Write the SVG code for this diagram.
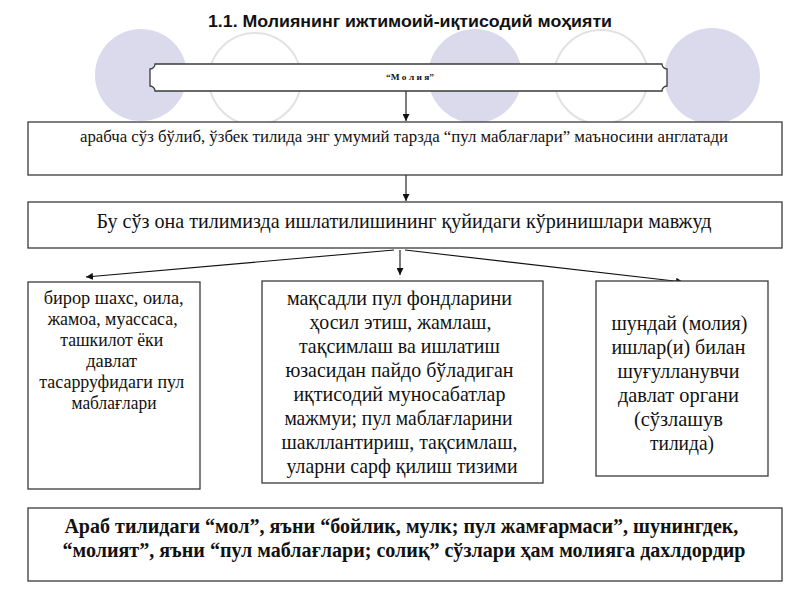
<svg xmlns="http://www.w3.org/2000/svg" width="800" height="600" viewBox="0 0 800 600">
<style>
.box{fill:#fff;stroke:#3a3a3a;stroke-width:1.3}
.t{font-family:"Liberation Serif","Times New Roman",serif;fill:#111;text-anchor:middle}
.b{font-weight:bold}
.con{stroke:#111;stroke-width:1.1;fill:none;marker-end:url(#ah)}
.fc{fill:#dadaec}
.oc{fill:none;stroke:#e2e2e2;stroke-width:2}
</style>
<defs>
<marker id="ah" viewBox="0 0 10 10" refX="10" refY="5" markerWidth="7" markerHeight="7" markerUnits="userSpaceOnUse" orient="auto">
<path d="M0,0 L10,5 L0,10 z" fill="#111"/>
</marker>
</defs>
<rect width="800" height="600" fill="#fff"/>
<g id="background">
<circle class="fc" cx="141" cy="75" r="46"/>
<circle class="oc" cx="255" cy="79" r="46"/>
<circle class="fc" cx="475" cy="76" r="47"/>
<circle class="oc" cx="601" cy="77" r="47"/>
<circle class="fc" cx="712" cy="76" r="48"/>
</g>
<text id="title" x="410" y="27" font-family="'Liberation Sans',Arial,sans-serif" font-weight="bold" font-size="16" text-anchor="middle" fill="#111" textLength="404" lengthAdjust="spacingAndGlyphs">1.1. Молиянинг ижтимоий-иқтисодий моҳияти</text>
<g id="connectors">
<line class="con" x1="406" y1="91" x2="406" y2="121"/>
<line class="con" x1="406" y1="175" x2="406" y2="201"/>
<line class="con" x1="394" y1="250" x2="86" y2="277"/>
<line class="con" x1="400" y1="250" x2="400" y2="275"/>
<line class="con" x1="405" y1="250" x2="683" y2="282"/>
</g>
<g id="n-molia">
<path class="box" d="M155,64 H662 A5,5 0 0 0 667,69 V86 A5,5 0 0 0 662,91 H155 A5,5 0 0 0 150,86 V69 A5,5 0 0 0 155,64 Z"/>
<text class="t b" x="410" y="80" font-size="8.5" textLength="48" lengthAdjust="spacingAndGlyphs">“М о л и я”</text>
</g>
<g id="n-arab">
<rect class="box" x="28" y="122" width="754" height="53"/>
<text class="t" x="404" y="142" font-size="17" textLength="648" lengthAdjust="spacingAndGlyphs">арабча сўз бўлиб, ўзбек тилида энг умумий тарзда  “пул маблағлари” маъносини англатади</text>
</g>
<g id="n-bu">
<rect class="box" x="28" y="202" width="754" height="46"/>
<text class="t" x="404" y="228" font-size="21" textLength="615" lengthAdjust="spacingAndGlyphs">Бу сўз она тилимизда ишлатилишининг қуйидаги кўринишлари мавжуд</text>
</g>
<g id="n-left">
<rect class="box" x="28" y="282" width="172" height="207"/>
<text class="t" font-size="18.5">
<tspan x="116" y="304" textLength="140" lengthAdjust="spacingAndGlyphs">бирор шахс, оила,</tspan>
<tspan x="115" y="325" textLength="130" lengthAdjust="spacingAndGlyphs">жамоа, муассаса,</tspan>
<tspan x="114" y="346" textLength="103" lengthAdjust="spacingAndGlyphs">ташкилот ёки</tspan>
<tspan x="114" y="367" textLength="51" lengthAdjust="spacingAndGlyphs">давлат</tspan>
<tspan x="114" y="388" textLength="145" lengthAdjust="spacingAndGlyphs">тасарруфидаги пул</tspan>
<tspan x="114" y="409" textLength="85" lengthAdjust="spacingAndGlyphs">маблағлари</tspan>
</text>
</g>
<g id="n-center">
<rect class="box" x="262" y="281" width="281" height="202"/>
<text class="t" font-size="21">
<tspan x="402" y="305" textLength="225" lengthAdjust="spacingAndGlyphs">мақсадли пул фондларини</tspan>
<tspan x="403" y="329" textLength="182" lengthAdjust="spacingAndGlyphs">ҳосил этиш, жамлаш,</tspan>
<tspan x="402" y="353" textLength="201" lengthAdjust="spacingAndGlyphs">тақсимлаш ва ишлатиш</tspan>
<tspan x="402" y="377" textLength="228" lengthAdjust="spacingAndGlyphs">юзасидан пайдо бўладиган</tspan>
<tspan x="402" y="401" textLength="212" lengthAdjust="spacingAndGlyphs">иқтисодий муносабатлар</tspan>
<tspan x="401" y="425" textLength="228" lengthAdjust="spacingAndGlyphs">мажмуи; пул маблағларини</tspan>
<tspan x="402" y="449" textLength="236" lengthAdjust="spacingAndGlyphs">шакллантириш, тақсимлаш,</tspan>
<tspan x="402" y="473" textLength="231" lengthAdjust="spacingAndGlyphs">уларни сарф қилиш тизими</tspan>
</text>
</g>
<g id="n-right">
<rect class="box" x="596" y="281" width="172" height="195"/>
<text class="t" font-size="21">
<tspan x="682" y="330" textLength="136" lengthAdjust="spacingAndGlyphs">шундай (молия)</tspan>
<tspan x="681" y="354" textLength="134" lengthAdjust="spacingAndGlyphs">ишлар(и) билан</tspan>
<tspan x="681" y="378" textLength="122" lengthAdjust="spacingAndGlyphs">шуғулланувчи</tspan>
<tspan x="681" y="402" textLength="121" lengthAdjust="spacingAndGlyphs">давлат органи</tspan>
<tspan x="681" y="426" textLength="89" lengthAdjust="spacingAndGlyphs">(сўзлашув</tspan>
<tspan x="682" y="450" textLength="64" lengthAdjust="spacingAndGlyphs">тилида)</tspan>
</text>
</g>
<g id="n-bottom">
<rect class="box" x="28" y="508" width="754" height="73"/>
<text class="t b" font-size="21">
<tspan x="404" y="533" textLength="674" lengthAdjust="spacingAndGlyphs">Араб тилидаги “мол”, яъни “бойлик, мулк; пул жамғармаси”, шунингдек,</tspan>
<tspan x="404" y="557" textLength="683" lengthAdjust="spacingAndGlyphs">“молият”, яъни “пул маблағлари; солиқ” сўзлари ҳам молияга дахлдордир</tspan>
</text>
</g>
</svg>
